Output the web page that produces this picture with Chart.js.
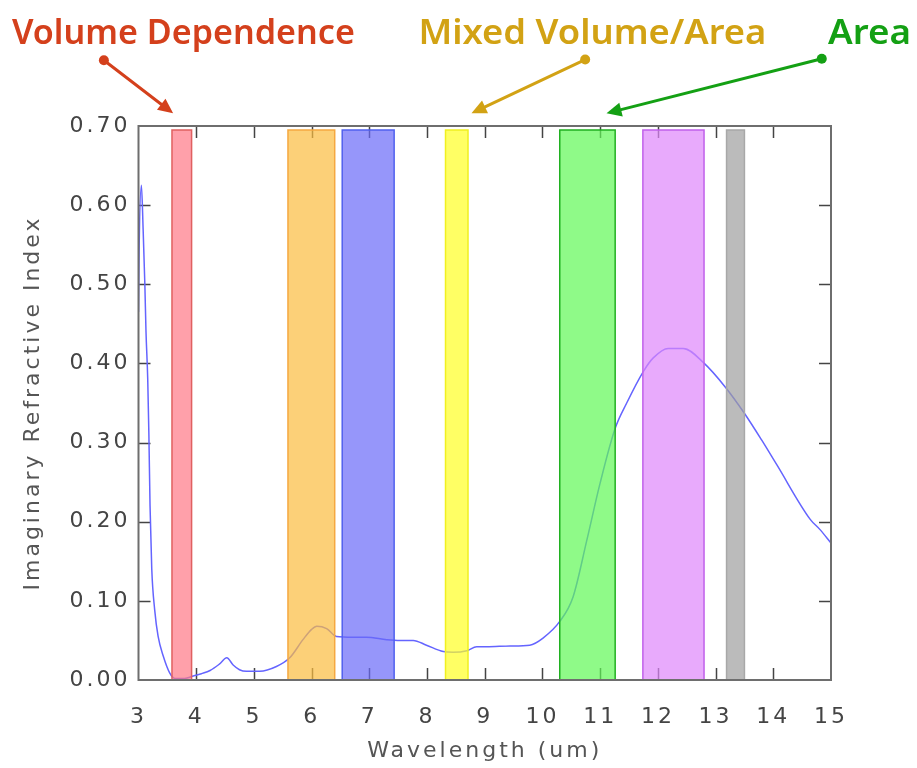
<!DOCTYPE html>
<html><head><meta charset="utf-8">
<script src="https://cdn.jsdelivr.net/npm/chart.js@4.4.1/dist/chart.umd.min.js"></script>
<style>html,body{margin:0;padding:0;background:#fff;}#wrap{width:917px;height:768px;position:relative;}</style>
</head><body><div id="wrap"><canvas id="c" width="917" height="768"></canvas></div>
<script>
// ---- data ----
const wavelength = [3.00,3.01,3.05,3.08,3.11,3.13,3.16,3.18,3.20,3.23,3.28,3.34,3.43,3.54,3.63,3.80,3.95,4.09,4.24,4.40,4.53,4.64,4.75,4.87,5.10,5.39,5.62,5.85,6.00,6.09,6.26,6.43,6.72,6.95,7.30,7.53,7.76,7.99,8.28,8.45,8.69,8.86,9.03,9.44,9.78,10.01,10.30,10.53,10.77,11.00,11.26,11.46,11.75,11.92,12.18,12.44,12.79,13.17,13.49,13.80,14.06,14.64,14.81,15.00];
const imagIndex = [0.465,0.540,0.625,0.570,0.500,0.440,0.380,0.310,0.220,0.140,0.089,0.055,0.030,0.009,0.002,0.002,0.005,0.008,0.012,0.020,0.028,0.019,0.013,0.011,0.011,0.017,0.028,0.051,0.064,0.068,0.065,0.055,0.054,0.054,0.051,0.050,0.050,0.044,0.036,0.035,0.037,0.042,0.042,0.043,0.044,0.053,0.074,0.105,0.177,0.249,0.318,0.350,0.390,0.407,0.419,0.419,0.401,0.370,0.338,0.303,0.272,0.203,0.190,0.173];
const bandStart = [3.58,5.59,6.53,8.32,10.30,11.74,13.19];
const bandEnd   = [3.92,6.40,7.43,8.71,11.26,12.80,13.50];
const bandTop = 0.695;
const xMin = 3, xMax = 15, xStep = 1;
const yMin = 0, yMax = 0.70, yStep = 0.1;
const xTitle = 'Wavelength (um)';
const yTitle = 'Imaginary Refractive Index';
const annoLabels = ['Volume Dependence','Mixed Volume/Area','Area'];
const annoTextX = [0.806, 7.85, 14.95];
const annoTextY = [0.804, 0.804, 0.804];
const annoFromX = [2.40, 10.74, 14.84];
const annoFromY = [0.783, 0.784, 0.785];
const annoToX = [3.60, 8.77, 11.11];
const annoToY = [0.716, 0.716, 0.716];

// ---- styles ----
const bandFill = ['rgba(255,119,134,0.7)','rgba(251,188,62,0.7)','rgba(105,105,248,0.7)','rgba(255,255,34,0.7)','rgba(96,248,85,0.7)','rgba(222,134,251,0.7)','rgba(158,158,158,0.7)'];
const bandLine = ['#e06060','#f5a840','#5060ee','#f0f020','#20b020','#c060ea','#a8a8a8'];
const annoColors = ['#d4401c','#d2a214','#14a014'];
const annoWidths = [343, 348, 83];
const FONT = 'DejaVu Sans';

const bandDatasets = bandStart.map((s,i)=>({
  type:'line',
  data:[{x:s,y:0},{x:s,y:bandTop},{x:bandEnd[i],y:bandTop},{x:bandEnd[i],y:0}],
  borderColor: bandLine[i], backgroundColor: bandFill[i], borderWidth:1.5,
  fill:'origin', pointRadius:0, tension:0
}));
const curve = {
  type:'line',
  data: wavelength.map((w,i)=>({x:w,y:imagIndex[i]})),
  borderColor:'#6464ff', borderWidth:1.5, pointRadius:0, fill:false,
  cubicInterpolationMode:'monotone'
};

const spacingPlugin = {
  id:'spacing',
  beforeDraw(chart){ chart.ctx.letterSpacing = '3px'; }
};
const framePlugin = {
  id:'frame',
  beforeDatasetsDraw(chart){
    const {ctx, chartArea:a, scales:{x,y}} = chart;
    ctx.save();
    ctx.strokeStyle = '#444'; ctx.lineWidth = 1.5;
    ctx.beginPath();
    x.ticks.forEach(t=>{
      if (t.value<=xMin || t.value>=xMax) return;
      const px = Math.round(x.getPixelForValue(t.value))+0.5;
      ctx.moveTo(px,a.bottom); ctx.lineTo(px,a.bottom-12);
      ctx.moveTo(px,a.top); ctx.lineTo(px,a.top+12);
    });
    y.ticks.forEach(t=>{
      if (t.value<=yMin+1e-9 || t.value>=yMax-1e-9) return;
      const py = Math.round(y.getPixelForValue(t.value))+0.5;
      ctx.moveTo(a.left,py); ctx.lineTo(a.left+12,py);
      ctx.moveTo(a.right,py); ctx.lineTo(a.right-12,py);
    });
    ctx.stroke();
    ctx.restore();
  },
  afterDatasetsDraw(chart){
    const {ctx, chartArea:a} = chart;
    ctx.save();
    ctx.strokeStyle = '#6e6e6e'; ctx.lineWidth = 2;
    ctx.strokeRect(a.left, a.top, a.right-a.left, a.bottom-a.top);
    ctx.restore();
  }
};
const annoPlugin = {
  id:'anno',
  afterDraw(chart){
    const {ctx, scales:{x,y}} = chart;
    ctx.save();
    ctx.letterSpacing = '0px';
    annoLabels.forEach((lab,i)=>{
      const col = annoColors[i];
      ctx.font = '600 34px "Noto Sans"';
      ctx.fillStyle = col; ctx.textAlign='left'; ctx.textBaseline='alphabetic';
      const w = ctx.measureText(lab).width;
      const tx = x.getPixelForValue(annoTextX[i]), ty = y.getPixelForValue(annoTextY[i]);
      ctx.save(); ctx.translate(tx,ty); ctx.scale(annoWidths[i]/w,1); ctx.fillText(lab,0,0); ctx.restore();
      const x0 = x.getPixelForValue(annoFromX[i]), y0 = y.getPixelForValue(annoFromY[i]);
      const x1 = x.getPixelForValue(annoToX[i]), y1 = y.getPixelForValue(annoToY[i]);
      const ang = Math.atan2(y1-y0, x1-x0);
      const L = 15, H = 7;
      const bx = x1 - L*Math.cos(ang), by = y1 - L*Math.sin(ang);
      ctx.strokeStyle = col; ctx.fillStyle = col; ctx.lineWidth = 3; ctx.lineCap='round';
      ctx.beginPath(); ctx.moveTo(x0,y0); ctx.lineTo(bx,by); ctx.stroke();
      ctx.beginPath();
      ctx.moveTo(x1,y1);
      ctx.lineTo(bx - H*Math.sin(ang), by + H*Math.cos(ang));
      ctx.lineTo(bx + H*Math.sin(ang), by - H*Math.cos(ang));
      ctx.closePath(); ctx.fill();
      ctx.beginPath(); ctx.arc(x0,y0,5,0,Math.PI*2); ctx.fill();
    });
    ctx.restore();
  }
};

new Chart(document.getElementById('c'), {
  type:'line',
  data:{ datasets:[...bandDatasets, curve] },
  options:{
    responsive:false, animation:false, devicePixelRatio:1,
    layout:{ padding:{ top:126, right:86, left:0, bottom:0 } },
    plugins:{ legend:{display:false}, tooltip:{enabled:false} },
    scales:{
      x:{
        type:'linear', min:xMin, max:xMax,
        afterFit(s){ s.height = 88; },
        grid:{ display:false, drawTicks:false }, border:{ display:false },
        ticks:{ stepSize:xStep, padding:24, color:'#444', font:{family:FONT,size:22}, maxRotation:0, autoSkip:false },
        title:{ display:true, text:xTitle, color:'#555', font:{family:FONT,size:22}, padding:{top:0,bottom:4} }
      },
      y:{
        type:'linear', min:yMin, max:yMax,
        afterFit(s){ s.width = 138.5; },
        grid:{ display:false, drawTicks:false }, border:{ display:false },
        ticks:{ stepSize:yStep, padding:8, color:'#444', font:{family:FONT,size:22}, callback:v=>Number(v).toFixed(2) },
        title:{ display:true, text:yTitle, color:'#555', font:{family:FONT,size:22}, padding:{top:20,bottom:0} }
      }
    }
  },
  plugins:[spacingPlugin, framePlugin, annoPlugin]
});
</script>
</body></html>
